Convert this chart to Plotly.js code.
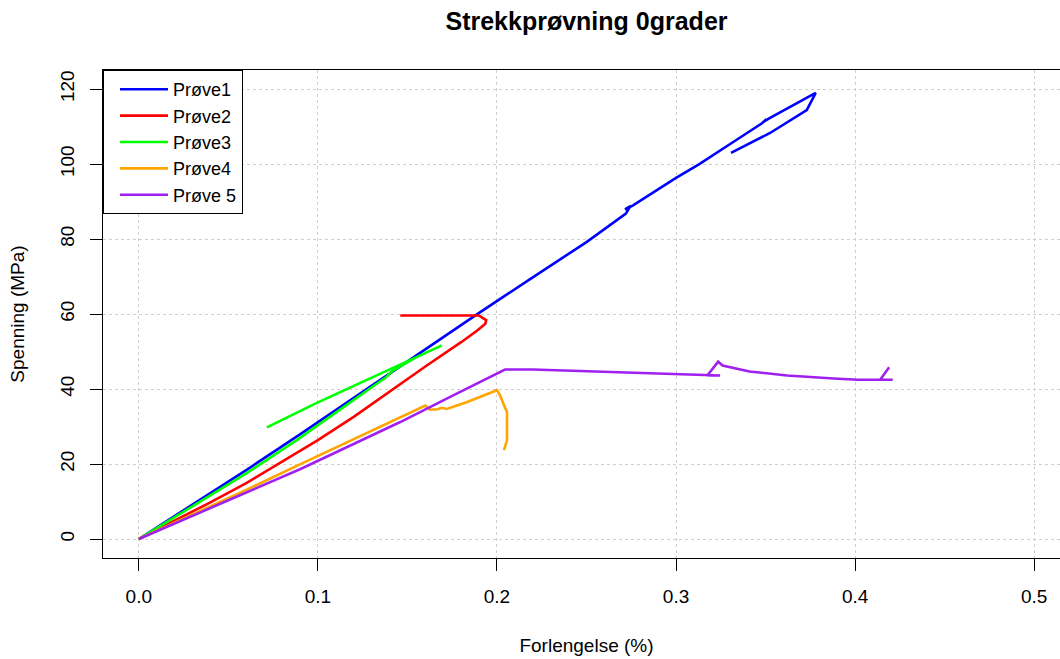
<!DOCTYPE html>
<html>
<head>
<meta charset="utf-8">
<script src="https://cdn.plot.ly/plotly-3.0.1.min.js"></script>
<style>
html, body { margin: 0; padding: 0; overflow: hidden; background: #ffffff; }
#chart { width: 1072px; height: 659px; }
</style>
</head>
<body>
<div id="chart"></div>
<script>
// ---- Data ----
const seriesNames = ["Prøve1", "Prøve2", "Prøve3", "Prøve4", "Prøve 5"];

const prove1X = [0, 0.03, 0.06, 0.09, 0.12, 0.14, 0.165, 0.189, 0.22, 0.25, 0.272, 0.2745, 0.2715, 0.276, 0.30, 0.313, 0.33, 0.348, 0.3505, 0.349, 0.352, 0.365, 0.378, 0.373, 0.3525, 0.3307];
const prove1Y = [0, 9.1, 18.4, 27.9, 37.6, 44.2, 52.1, 60, 69.8, 79.2, 86.8, 88.8, 87.9, 89, 96.3, 100, 105.3, 110.9, 112, 111.3, 112.2, 115.5, 119, 114.4, 108.3, 103];

const prove2X = [0, 0.02, 0.04, 0.06, 0.08, 0.1, 0.12, 0.14, 0.16, 0.18, 0.189, 0.1935, 0.194, 0.19, 0.146];
const prove2Y = [0, 4.8, 9.8, 14.9, 20.6, 26.4, 32.6, 39.4, 46, 52.5, 55.6, 57.4, 58.4, 59.6, 59.6];

const prove3X = [0, 0.03, 0.06, 0.088, 0.1, 0.115, 0.1384, 0.1415, 0.155, 0.169, 0.14, 0.0994, 0.0715];
const prove3Y = [0, 8.7, 17.5, 26.3, 30.3, 35.3, 43.3, 44.8, 48.5, 51.6, 45.2, 36.3, 29.8];

const prove4X = [0, 0.03, 0.06, 0.09, 0.118, 0.14, 0.16, 0.1625, 0.167, 0.169, 0.172, 0.183, 0.2, 0.2017, 0.2034, 0.2056, 0.2056, 0.2039];
const prove4Y = [0, 6.5, 13.1, 19.9, 26.2, 31.1, 35.6, 34.5, 34.6, 35.0, 34.7, 36.5, 39.7, 38.3, 36.2, 33.8, 26.3, 23.7];

const prove5X = [0, 0.03, 0.06, 0.09, 0.125, 0.146, 0.175, 0.2, 0.2045, 0.22, 0.26, 0.30, 0.3246, 0.3175, 0.3235, 0.326, 0.341, 0.362, 0.388, 0.4017, 0.421, 0.414, 0.419];
const prove5Y = [0, 6.1, 12.4, 18.6, 26.4, 31.2, 38.2, 44.1, 45.2, 45.2, 44.6, 43.9, 43.6, 43.6, 47.3, 46.3, 44.7, 43.6, 42.8, 42.5, 42.5, 42.5, 45.8];

const xTickVals = [0, 0.1, 0.2, 0.3, 0.4, 0.5];
const xTickText = ["0.0", "0.1", "0.2", "0.3", "0.4", "0.5"];
const yTickVals = [0, 20, 40, 60, 80, 100, 120];
const yTickText = ["0", "20", "40", "60", "80", "100", "120"];

const colors = ["#0000FF", "#FF0000", "#00FF00", "#FFA500", "#A020F0"];
const xs = [prove1X, prove2X, prove3X, prove4X, prove5X];
const ys = [prove1Y, prove2Y, prove3Y, prove4Y, prove5Y];

const FONT = "Liberation Sans, Arial, sans-serif";

const traces = seriesNames.map((name, i) => ({
  type: "scatter",
  mode: "lines",
  name: name,
  x: xs[i],
  y: ys[i],
  line: { color: colors[i], width: 2.6 },
  hoverinfo: "x+y+name"
}));

const layout = {
  width: 1072,
  height: 659,
  margin: { l: 103, r: 2, t: 70, b: 101 },
  paper_bgcolor: "#ffffff",
  plot_bgcolor: "#ffffff",
  font: { family: FONT, color: "#000000", size: 19 },
  title: {
    text: "<b>Strekkprøvning 0grader</b>",
    font: { family: FONT, size: 25, color: "#000000" },
    x: 0.5, xref: "paper", xanchor: "center",
    y: 0.968, yref: "container", yanchor: "middle"
  },
  showlegend: true,
  legend: {
    x: 0, y: 1, xref: "paper", yref: "paper",
    xanchor: "left", yanchor: "top",
    bgcolor: "#ffffff",
    bordercolor: "#000000",
    borderwidth: 1,
    font: { family: FONT, size: 18, color: "#000000" },
    itemwidth: 48,
    indentation: 11
  },
  xaxis: {
    range: [-0.02, 0.52],
    tickmode: "array",
    tickvals: xTickVals,
    ticktext: xTickText,
    ticks: "outside",
    ticklen: 12,
    tickwidth: 1,
    tickcolor: "#000000",
    ticklabelstandoff: 9,
    tickfont: { family: FONT, size: 19, color: "#000000" },
    showgrid: true,
    gridcolor: "#cfcfcf",
    griddash: "dot",
    gridwidth: 1,
    zeroline: false,
    showline: true,
    linecolor: "#000000",
    linewidth: 1,
    mirror: true,
    title: { text: "Forlengelse (%)", font: { family: FONT, size: 19, color: "#000000" }, standoff: 32 }
  },
  yaxis: {
    range: [-5.06, 125.1],
    tickmode: "array",
    tickvals: yTickVals,
    ticktext: yTickText,
    tickangle: -90,
    ticks: "outside",
    ticklen: 12,
    tickwidth: 1,
    tickcolor: "#000000",
    ticklabelstandoff: 8,
    tickfont: { family: FONT, size: 19, color: "#000000" },
    showgrid: true,
    gridcolor: "#cfcfcf",
    griddash: "dot",
    gridwidth: 1,
    zeroline: false,
    showline: true,
    linecolor: "#000000",
    linewidth: 1,
    mirror: true,
    title: { text: "Spenning (MPa)", font: { family: FONT, size: 19, color: "#000000" }, standoff: 27 }
  }
};

Plotly.newPlot("chart", traces, layout, { staticPlot: false, displayModeBar: false, responsive: false });
</script>
</body>
</html>
